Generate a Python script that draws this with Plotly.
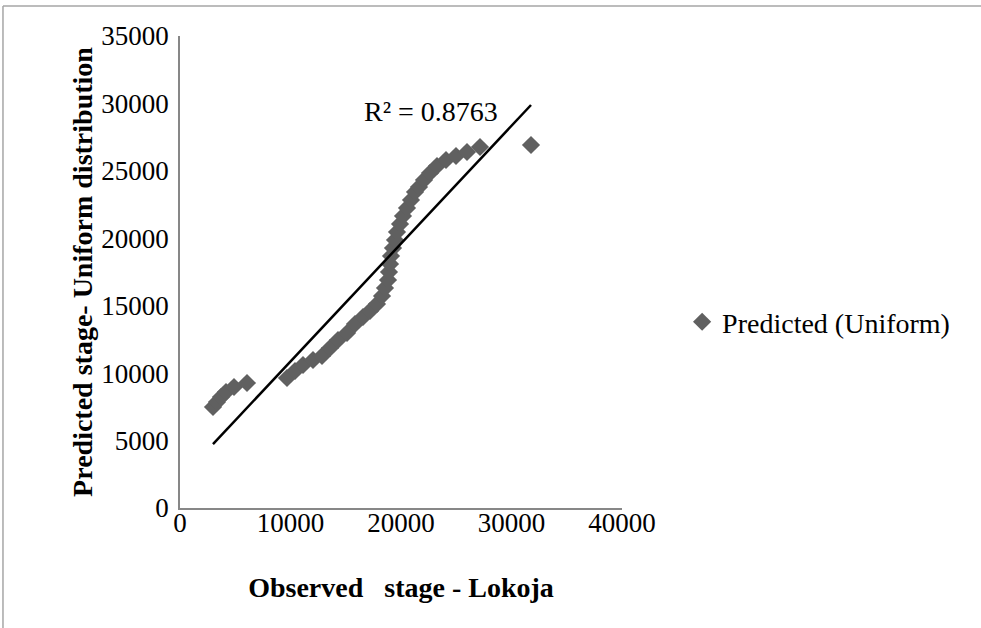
import numpy as np
import plotly.graph_objects as go

# Observed stage (x) and predicted stage from Uniform distribution (y)
observed = [2986, 3348, 3710, 4163, 4887, 6063,
            9683, 10407, 11131, 12036, 12851, 13575, 14299, 15113, 15837,
            16561, 17195, 17828, 18281, 18552, 18824,
            18914, 19005, 19095, 19276, 19457, 19638, 19910, 20181, 20543,
            20905, 21267, 21629, 22081, 22624, 23258, 24072, 24977, 25973,
            27149, 31765]
predicted = [7489, 7860, 8231, 8602, 8972, 9269,
             9640, 10159, 10604, 10975, 11272, 11865, 12458, 12977, 13644,
             14163, 14608, 15127, 15721, 16314, 16907,
             17500, 18094, 18687, 19280, 19873, 20467, 21060, 21653, 22246,
             22840, 23433, 23804, 24323, 24842, 25361, 25806, 26102, 26399,
             26770, 26918]
# linear trendline as shown on the chart
trend_slope = 0.8737
trend_intercept = 2130
series_name = "Predicted (Uniform)"
r2_label = "R² = 0.8763"
x_title = "Observed\u00a0\u00a0\u00a0stage - Lokoja"
y_title = "Predicted stage- Uniform distribution"
x_ticks = [0, 10000, 20000, 30000, 40000]
y_ticks = [0, 5000, 10000, 15000, 20000, 25000, 30000, 35000]

x = np.array(observed, dtype=float)
x_fit = np.array([x.min(), x.max()])
y_fit = trend_slope * x_fit + trend_intercept

FONT = "Liberation Serif, Times New Roman, serif"
marker_col = "#606060"
axis_col = "#878787"

fig = go.Figure()
fig.add_trace(go.Scatter(
    x=observed, y=predicted, mode="markers", name=series_name,
    marker=dict(symbol="diamond", size=14, color=marker_col, line=dict(width=0)),
))
fig.add_trace(go.Scatter(
    x=x_fit, y=y_fit, mode="lines", showlegend=False,
    line=dict(color="black", width=2.5), hoverinfo="skip",
))
fig.add_annotation(
    x=22700, y=29400, xref="x", yref="y", text=r2_label, showarrow=False,
    font=dict(family=FONT, size=28, color="black"),
)

axis_common = dict(
    showgrid=False, zeroline=False, showline=True, linecolor=axis_col, linewidth=1.5,
    ticks="", tickfont=dict(family=FONT, size=27, color="black"),
)
fig.update_xaxes(range=[0, 40000], tickvals=x_ticks, ticktext=[str(v) for v in x_ticks],
                 ticklabelstandoff=-10,
                 title=dict(text="<b>" + x_title + "</b>", font=dict(family=FONT, size=28, color="black"), standoff=40),
                 **axis_common)
fig.update_yaxes(range=[0, 35000], tickvals=y_ticks, ticktext=[str(v) for v in y_ticks],
                 ticklabelstandoff=4,
                 title=dict(text="<b>" + y_title + "</b>", font=dict(family=FONT, size=28, color="black"), standoff=1),
                 **axis_common)

# outer chart border (top and left edges visible)
border_col = "#a6a6a6"
fig.add_shape(type="line", xref="paper", yref="paper", x0=-0.4005, x1=1.82, y0=1.0636, y1=1.0636,
              line=dict(color=border_col, width=1.5))
fig.add_shape(type="line", xref="paper", yref="paper", x0=-0.4005, x1=-0.4005, y0=1.0636, y1=-0.26,
              line=dict(color=border_col, width=1.5))

fig.update_layout(
    width=981, height=628,
    margin=dict(l=180, r=359, t=36, b=120),
    paper_bgcolor="white", plot_bgcolor="white",
    font=dict(family=FONT, size=27, color="black"),
    legend=dict(x=1.136, y=0.394, xanchor="left", yanchor="middle",
                font=dict(family=FONT, size=28, color="black"),
                itemwidth=30, tracegroupgap=0, bgcolor="rgba(0,0,0,0)"),
    showlegend=True,
)

fig.write_html("out.html", config={"displayModeBar": False},
               post_script="document.body.style.margin='0';document.body.style.overflow='hidden';")
